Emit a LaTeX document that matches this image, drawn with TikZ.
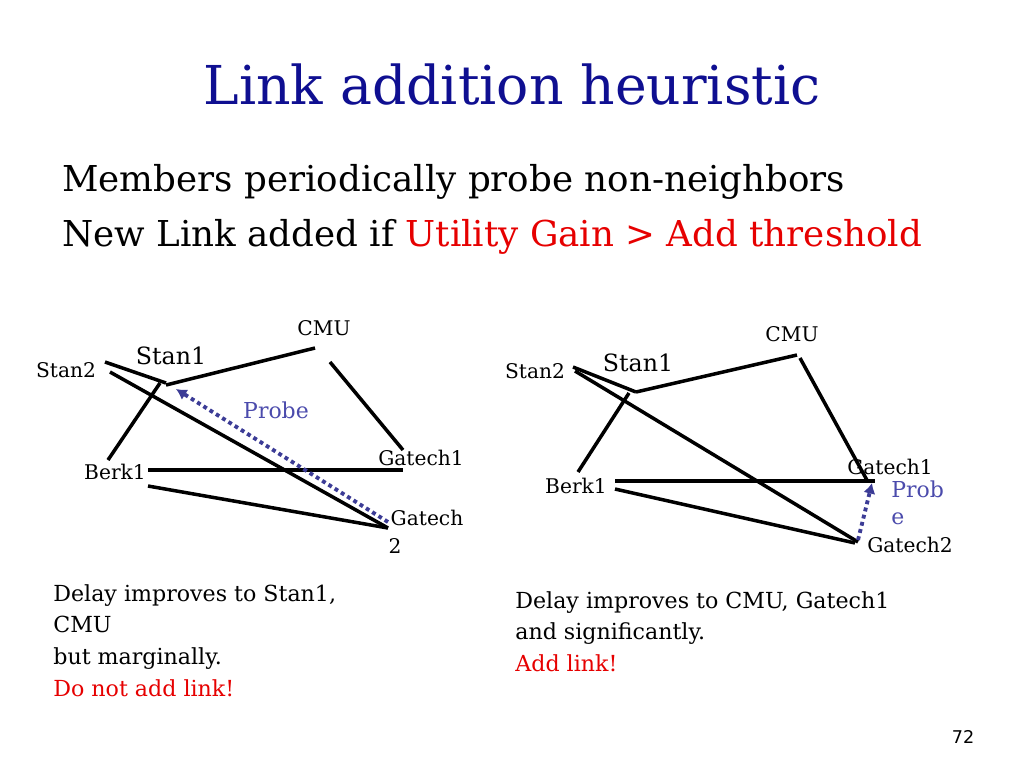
\documentclass[tikz,border=0pt]{standalone}
\usepackage{fontspec}
\setmainfont{DejaVu Serif}
\setsansfont{DejaVu Sans}
\usetikzlibrary{arrows.meta}
\begin{document}
\begin{tikzpicture}[x=0.02cm,y=-0.02cm]
        % Styles for labels and links
        \tikzset{
            lbl/.style={font=\fontsize{11.5}{14}\selectfont, inner sep=0pt},
            link/.style={line width=2pt},
            probe/.style={line width=2.2pt, dotted, draw={rgb,255:red,60;green,60;blue,150}, -{Latex[length=6pt,width=7pt]}}
        }
        \useasboundingbox (0,0) rectangle (1024,768);
        \definecolor{navy}{RGB}{15,15,145}
        \definecolor{hot}{RGB}{230,0,0}
        % Title and bullets
        \node[text=navy, font=\fontsize{30.5}{34}\selectfont] (title) at (512,85) {Link addition heuristic};
        \node[anchor=west, inner sep=0pt, font=\fontsize{20.3}{24}\selectfont] (line1) at (62,182) {Members periodically probe non-neighbors};
        \node[anchor=west, inner sep=0pt, font=\fontsize{20.3}{24}\selectfont] (line2) at (62,237) {New Link added if \textcolor{hot}{Utility Gain > Add threshold}};
        % Left graph
        \coordinate (lS2a) at (105,362); \coordinate (lS1a) at (166,383);
        \coordinate (lS2b) at (110,372); \coordinate (lG2) at (388,528);
        \coordinate (lS1b) at (166,385); \coordinate (lCMU) at (315,348);
        \coordinate (lCMUb) at (330,362); \coordinate (lG1) at (403,450);
        \coordinate (lS1c) at (160,383); \coordinate (lB1) at (108,460);
        \coordinate (lB1a) at (148,470); \coordinate (lG1b) at (403,470);
        \coordinate (lB1b) at (148,486); \coordinate (lG2b) at (388,528);
        \coordinate (lP0) at (388,522); \coordinate (lP1) at (176,389);
        \draw[link] (lS2a) -- (lS1a);
        \draw[link] (lS2b) -- (lG2);
        \draw[link] (lS1b) -- (lCMU);
        \draw[link] (lCMUb) -- (lG1);
        \draw[link] (lS1c) -- (lB1);
        \draw[link] (lB1a) -- (lG1b);
        \draw[link] (lB1b) -- (lG2b);
        \draw[probe] (lP0) -- (lP1);
        \node[lbl] (lcmu) at (324,328) {CMU};
        \node[lbl, font=\fontsize{13.5}{16}\selectfont] (lstan1) at (171,356) {Stan1};
        \node[lbl] (lstan2) at (66,370) {Stan2};
        \node[lbl, font=\fontsize{12.5}{15}\selectfont, text=navy!75] (lprobe) at (276,410) {Probe};
        \node[lbl] (lgatech1) at (421,458) {Gatech1};
        \node[lbl] (lberk1) at (115,472) {Berk1};
        \node[lbl] (lgatech2) at (427,518) {Gatech};
        \node[lbl] (ltwo) at (395,546) {2};
        % Right graph
        \coordinate (rS2a) at (573,367); \coordinate (rS1a) at (636,392);
        \coordinate (rS2b) at (575,371); \coordinate (rG2) at (858,542);
        \coordinate (rCMU) at (797,355); \coordinate (rCMUb) at (800,358);
        \coordinate (rG1) at (868,482); \coordinate (rS1c) at (629,393);
        \coordinate (rB1) at (578,472); \coordinate (rB1a) at (615,481);
        \coordinate (rG1b) at (875,481); \coordinate (rB1b) at (615,489);
        \coordinate (rG2b) at (855,543);
        \coordinate (rP0) at (858,540); \coordinate (rP1) at (872,483);
        \draw[link] (rS2a) -- (rS1a);
        \draw[link] (rS2b) -- (rG2);
        \draw[link] (rS1a) -- (rCMU);
        \draw[link] (rCMUb) -- (rG1);
        \draw[link] (rS1c) -- (rB1);
        \draw[link] (rB1a) -- (rG1b);
        \draw[link] (rB1b) -- (rG2b);
        \draw[probe] (rP0) -- (rP1);
        \node[lbl] (rcmu) at (792,334) {CMU};
        \node[lbl, font=\fontsize{13.5}{16}\selectfont] (rstan1) at (638,363) {Stan1};
        \node[lbl] (rstan2) at (535,371) {Stan2};
        \node[lbl] (rgatech1) at (890,467) {Gatech1};
        \node[lbl] (rberk1) at (576,486) {Berk1};
        \node[lbl] (rgatech2) at (910,545) {Gatech2};
        \node[lbl, anchor=west, font=\fontsize{12.5}{15}\selectfont, text=navy!75] (rprobe) at (891,489) {Prob};
        \node[lbl, anchor=west, font=\fontsize{12.5}{15}\selectfont, text=navy!75] (re) at (891,519) {e};
        % Captions
        \node[anchor=north west, inner sep=0pt, align=left, font=\fontsize{12.6}{18}\selectfont] (lcap) at (53,584)
            {Delay improves to Stan1,\\CMU\\but marginally.\\\textcolor{hot}{Do not add link!}};
        \node[anchor=north west, inner sep=0pt, align=left, font=\fontsize{12.6}{18}\selectfont] (rcap) at (515,591)
            {Delay improves to CMU, Gatech1\\and significantly.\\\textcolor{hot}{Add link!}};
        \node[font=\sffamily\fontsize{10}{12}\selectfont] (page) at (963,737) {72};
\end{tikzpicture}
\end{document}
